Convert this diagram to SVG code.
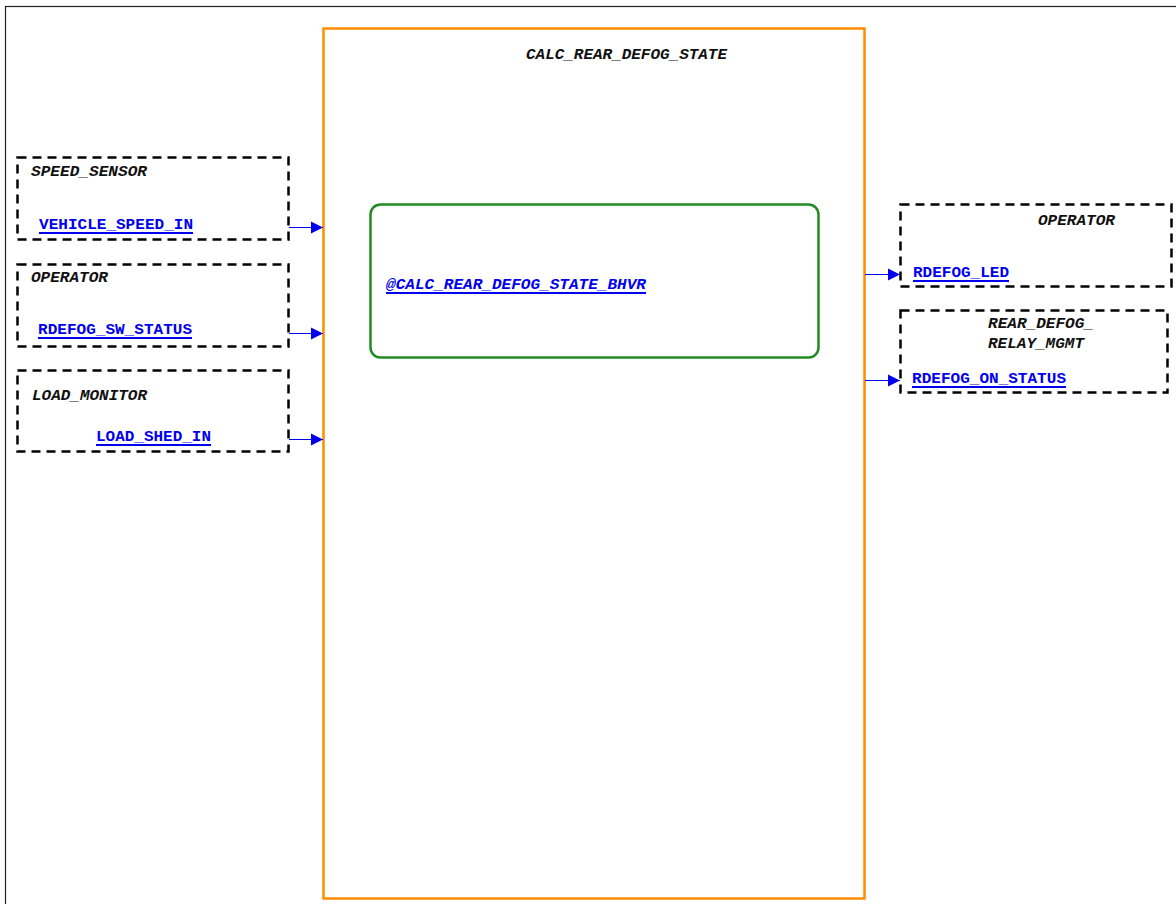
<svg xmlns="http://www.w3.org/2000/svg" width="1176" height="904" viewBox="0 0 1176 904">
<style>
.frame{fill:none;stroke:#222;stroke-width:1.2}
.comp{fill:#fff;stroke:#FF8C00;stroke-width:2.5}
.bhvr{fill:#fff;stroke:#228B22;stroke-width:2.5}
.ext{fill:none;stroke:#000;stroke-width:2.5;stroke-dasharray:9,6}
.name{font-family:"Liberation Mono","Courier New",monospace;font-size:14px;font-weight:bold;font-style:italic;fill:#111}
.port{font-family:"Liberation Mono","Courier New",monospace;font-size:14px;font-weight:bold;fill:#0000EE}
.blink{font-family:"Liberation Mono","Courier New",monospace;font-size:14px;font-weight:bold;font-style:italic;fill:#0000EE}
.ul{stroke:#0000EE;stroke-width:2}
.conn{stroke:#0000EE;stroke-width:1.2;fill:none;marker-end:url(#arr)}
</style>
<defs>
<marker id="arr" viewBox="0 0 12 12" refX="12" refY="6" markerWidth="12" markerHeight="13" markerUnits="userSpaceOnUse" orient="auto">
<path d="M0,0 L12,6 L0,12 z" fill="#0000EE"/>
</marker>
</defs>
<rect x="0" y="0" width="1176" height="904" fill="#fff"/>
<rect class="frame" x="5.5" y="6.5" width="1200" height="1000"/>
<g id="CALC_REAR_DEFOG_STATE">
<rect class="comp" x="323.5" y="28.5" width="541" height="870"/>
<text class="name" x="526" y="59" textLength="201" lengthAdjust="spacingAndGlyphs">CALC_REAR_DEFOG_STATE</text>
</g>
<g id="CALC_REAR_DEFOG_STATE_BHVR">
<rect class="bhvr" x="370.5" y="204.5" width="448" height="153" rx="10" ry="10"/>
<text class="blink" x="386" y="289" textLength="260" lengthAdjust="spacingAndGlyphs">@CALC_REAR_DEFOG_STATE_BHVR</text>
<line class="ul" x1="386" y1="293" x2="646" y2="293"/>
</g>
<g id="SPEED_SENSOR">
<rect class="ext" x="17.5" y="157.5" width="271" height="82"/>
<text class="name" x="31" y="176" textLength="116" lengthAdjust="spacingAndGlyphs">SPEED_SENSOR</text>
<text class="port" x="39" y="229" textLength="154" lengthAdjust="spacingAndGlyphs">VEHICLE_SPEED_IN</text>
<line class="ul" x1="39" y1="233" x2="193" y2="233"/>
</g>
<g id="OPERATOR_IN">
<rect class="ext" x="17.5" y="264.5" width="271" height="82"/>
<text class="name" x="31" y="282" textLength="77" lengthAdjust="spacingAndGlyphs">OPERATOR</text>
<text class="port" x="38" y="334" textLength="154" lengthAdjust="spacingAndGlyphs">RDEFOG_SW_STATUS</text>
<line class="ul" x1="38" y1="338" x2="192" y2="338"/>
</g>
<g id="LOAD_MONITOR">
<rect class="ext" x="17.5" y="370.5" width="271" height="81"/>
<text class="name" x="32" y="400" textLength="115" lengthAdjust="spacingAndGlyphs">LOAD_MONITOR</text>
<text class="port" x="96" y="441" textLength="115" lengthAdjust="spacingAndGlyphs">LOAD_SHED_IN</text>
<line class="ul" x1="96" y1="445" x2="211" y2="445"/>
</g>
<g id="OPERATOR_OUT">
<rect class="ext" x="900.5" y="204.5" width="271" height="82"/>
<text class="name" x="1038" y="225" textLength="77" lengthAdjust="spacingAndGlyphs">OPERATOR</text>
<text class="port" x="913" y="277" textLength="96" lengthAdjust="spacingAndGlyphs">RDEFOG_LED</text>
<line class="ul" x1="913" y1="281" x2="1009" y2="281"/>
</g>
<g id="REAR_DEFOG_RELAY_MGMT">
<rect class="ext" x="900.5" y="310.5" width="267" height="82"/>
<text class="name" x="988" y="328" textLength="106" lengthAdjust="spacingAndGlyphs">REAR_DEFOG_</text>
<text class="name" x="988" y="348" textLength="96" lengthAdjust="spacingAndGlyphs">RELAY_MGMT</text>
<text class="port" x="912" y="383" textLength="154" lengthAdjust="spacingAndGlyphs">RDEFOG_ON_STATUS</text>
<line class="ul" x1="912" y1="387" x2="1066" y2="387"/>
</g>
<g id="connectors">
<line class="conn" x1="289" y1="227.5" x2="323" y2="227.5"/>
<line class="conn" x1="289" y1="333.5" x2="323" y2="333.5"/>
<line class="conn" x1="289" y1="439.5" x2="323" y2="439.5"/>
<line class="conn" x1="865" y1="274.5" x2="900" y2="274.5"/>
<line class="conn" x1="865" y1="380.5" x2="900" y2="380.5"/>
</g>
</svg>
